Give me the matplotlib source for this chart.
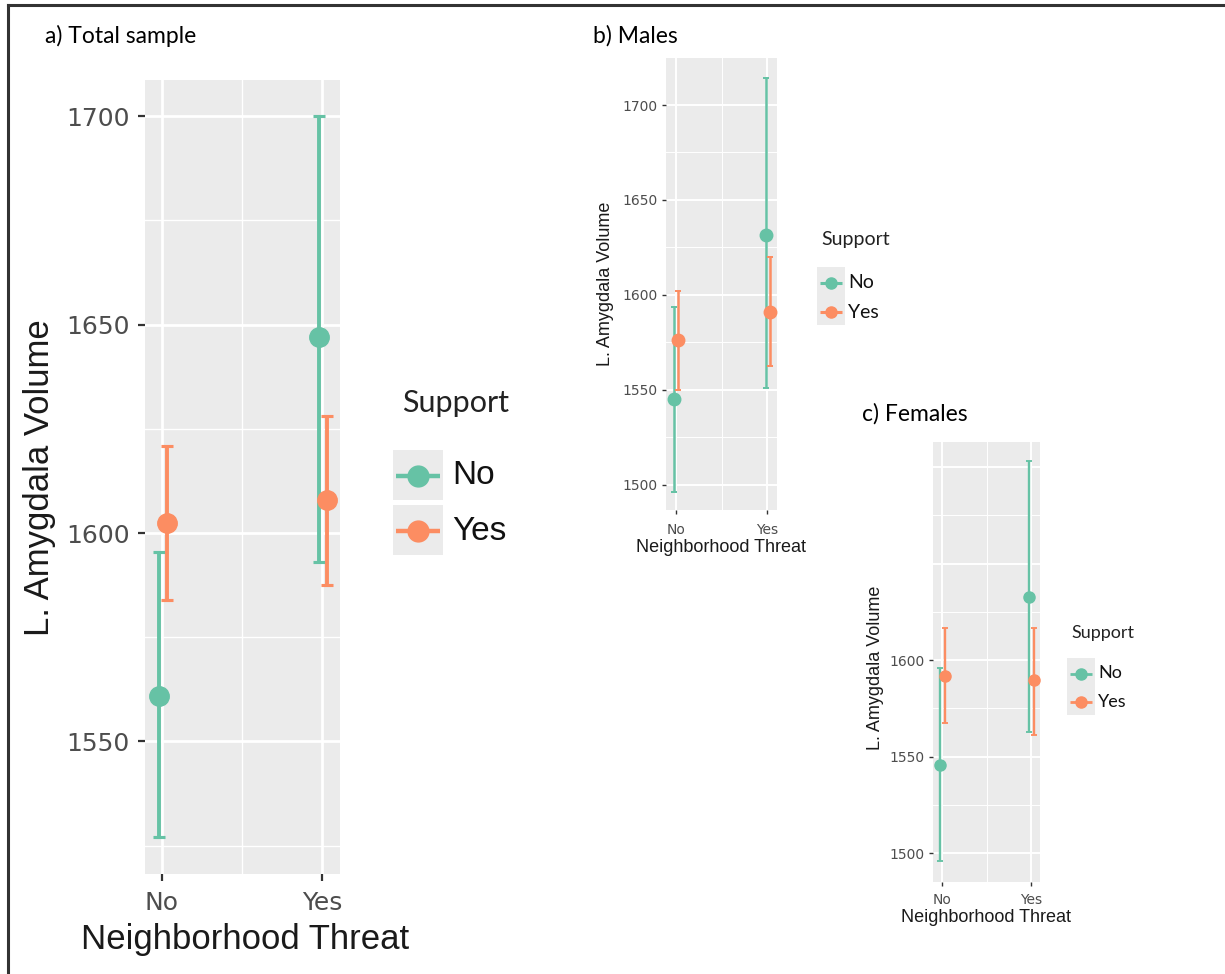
import numpy as np
import matplotlib.pyplot as plt

W, H = 1225, 974

threat = ['No', 'Yes']
support = ['No', 'Yes']
colors = ['#66C2A5', '#FC8D62']

# a) Total sample: mean and interval bounds per threat level
a_mean = {'No': [1561, 1647], 'Yes': [1602.5, 1608]}
a_low = {'No': [1527, 1593], 'Yes': [1584, 1587.5]}
a_high = {'No': [1595.5, 1700], 'Yes': [1621, 1628]}

# b) Males
b_mean = {'No': [1545, 1631.5], 'Yes': [1576, 1591]}
b_low = {'No': [1496, 1551], 'Yes': [1550, 1562.5]}
b_high = {'No': [1593.5, 1714], 'Yes': [1602, 1620]}

# c) Females
c_mean = {'No': [1545.5, 1632.5], 'Yes': [1592, 1589.5]}
c_low = {'No': [1496, 1562.5], 'Yes': [1567.5, 1561]}
c_high = {'No': [1596, 1703], 'Yes': [1616.5, 1616.5]}

y_major = [1500, 1550, 1600, 1650, 1700]
y_minor = [1525, 1575, 1625, 1675]

fig = plt.figure(figsize=(W / 100, H / 100), dpi=100)

# pixel overlay for border, titles and legends
ov = fig.add_axes([0, 0, 1, 1])
ov.set_xlim(0, W)
ov.set_ylim(H, 0)
ov.axis('off')


def px_axes(x0, y0, x1, y1):
    return fig.add_axes([x0 / W, 1 - y1 / H, (x1 - x0) / W, (y1 - y0) / H])


def panel(ax, mean, low, high, ylim, xlim, s):
    ax.set_facecolor('#EBEBEB')
    for sp in ax.spines.values():
        sp.set_visible(False)
    ax.set_xticks([1, 2])
    ax.set_xticklabels(threat)
    ax.set_xticks([1.5], minor=True)
    ax.set_yticks(y_major)
    ax.set_yticks(y_minor, minor=True)
    ax.grid(which='major', color='white', lw=s['gmaj'])
    ax.grid(which='minor', color='white', lw=s['gmin'])
    ax.set_axisbelow(True)
    ax.tick_params(which='major', color='#333333', labelcolor='#4D4D4D',
                   length=s['tlen'], width=s['twid'], labelsize=s['lsize'])
    ax.tick_params(axis='x', pad=s['xpad'])
    ax.tick_params(axis='y', pad=s['ypad'])
    ax.tick_params(which='minor', length=0)
    x = np.arange(1, len(threat) + 1)
    for lvl, col, off in zip(support, colors, [-0.02, 0.03]):
        m = np.array(mean[lvl])
        err = [m - np.array(low[lvl]), np.array(high[lvl]) - m]
        ax.errorbar(x + off, m, yerr=err, fmt='o', color=col, ms=s['ms'],
                    elinewidth=s['elw'], capsize=s['cap'], capthick=s['elw'] * 0.8)
    # limits last, so the tick lists do not widen the view
    ax.set_xlim(*xlim)
    ax.set_ylim(*ylim)


def legend(tx, ty, kx0, kx1, rows, lx, tsize, lsize, ms, lw, fam):
    ov.text(tx, ty, 'Support', fontsize=tsize, family='Lato', color='#222222',
            ha='left', va='center')
    for (y0, y1), lvl, col in zip(rows, support, colors):
        ov.add_patch(plt.Rectangle((kx0, y0), kx1 - kx0, y1 - y0 - 2,
                                   facecolor='#EBEBEB', edgecolor='none'))
        yc = (y0 + y1) / 2
        ov.plot([kx0 + 3, kx1 - 3], [yc, yc], color=col, lw=lw,
                solid_capstyle='butt')
        ov.plot([(kx0 + kx1) / 2], [yc], 'o', color=col, ms=ms)
        ov.text(lx, yc, lvl, fontsize=lsize, family=fam, color='#111111',
                ha='left', va='center')


# figure border (top and left only)
ov.plot([8, W], [5, 5], color='#333333', lw=2.2, clip_on=False)
ov.plot([8, 8], [5, H], color='#333333', lw=2.2, clip_on=False)

# a) Total sample
ax_a = px_axes(145, 80, 340, 874)
panel(ax_a, a_mean, a_low, a_high, (1518.2, 1708.7), (0.894, 2.11),
      dict(gmaj=2.0, gmin=1.0, tlen=5, twid=1.6, lsize=18, xpad=7, ypad=6,
           ms=14, elw=2.8, cap=4))
ov.text(45, 43, 'a) Total sample', fontsize=16.5, family='Lato', va='baseline')
ov.text(40, 478, 'L. Amygdala Volume', fontsize=25, family='Liberation Sans',
        rotation=90, ha='center', va='center', color='#1a1a1a')
ov.text(245, 939, 'Neighborhood Threat', fontsize=25, family='Liberation Sans',
        ha='center', va='center', color='#1a1a1a')
legend(402, 403, 393, 443, [(450, 502), (505, 557)], 452, 22, 24, 15, 3.2,
       'Liberation Sans')

# b) Males
ax_b = px_axes(666, 58, 777, 510)
panel(ax_b, b_mean, b_low, b_high, (1486.6, 1724.8), (0.895, 2.104),
      dict(gmaj=1.4, gmin=0.7, tlen=3, twid=1.0, lsize=10, xpad=6, ypad=3,
           ms=9, elw=1.8, cap=2))
ov.text(593, 43, 'b) Males', fontsize=16.5, family='Lato', va='baseline')
ov.text(605, 284, 'L. Amygdala Volume', fontsize=13, family='Liberation Sans',
        rotation=90, ha='center', va='center', color='#1a1a1a')
ov.text(721, 548, 'Neighborhood Threat', fontsize=13, family='Liberation Sans',
        ha='center', va='center', color='#1a1a1a')
legend(821, 240, 817, 845, [(267, 299), (297, 327)], 848, 14, 14, 8, 2.2,
       'Lato')

# c) Females
ax_c = px_axes(933, 442, 1040, 882)
panel(ax_c, c_mean, c_low, c_high, (1485, 1713), (0.9, 2.1),
      dict(gmaj=1.4, gmin=0.7, tlen=3, twid=1.0, lsize=10, xpad=5, ypad=3,
           ms=8, elw=1.7, cap=2))
ax_c.set_yticklabels(['1500', '1550', '1600', '', ''])
for t in ax_c.yaxis.get_major_ticks()[3:]:
    t.tick1line.set_visible(False)
ov.text(862, 421, 'c) Females', fontsize=16.5, family='Lato', va='baseline')
ov.text(875, 668, 'L. Amygdala Volume', fontsize=13, family='Liberation Sans',
        rotation=90, ha='center', va='center', color='#1a1a1a')
ov.text(986, 917, 'Neighborhood Threat', fontsize=13, family='Liberation Sans',
        ha='center', va='center', color='#1a1a1a')
legend(1071, 633, 1067, 1095, [(658, 689), (687, 717)], 1098, 13, 13, 8, 2.0,
       'Lato')

fig.savefig('out.png', dpi=100)
